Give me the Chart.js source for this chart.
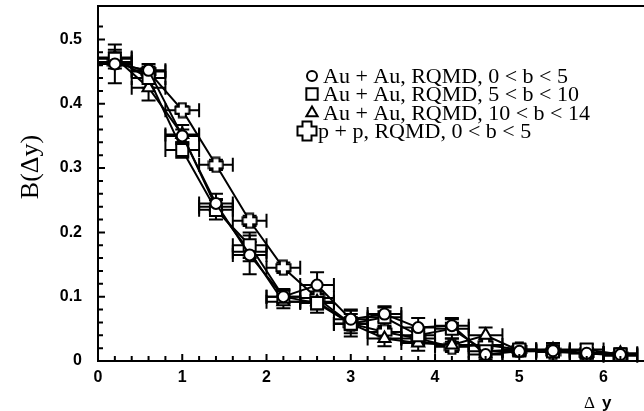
<!DOCTYPE html>
<html>
<head>
<meta charset="utf-8">
<script src="https://cdn.jsdelivr.net/npm/chart.js@4.4.0/dist/chart.umd.min.js"></script>
<style>
  html, body { margin: 0; padding: 0; background: #fff; overflow: hidden; }
  #wrap { width: 644px; height: 411px; }
</style>
</head>
<body>
<div id="wrap"><canvas id="myChart" width="644" height="411"></canvas></div>
<script>
// rapidity gap bins (bin centres, each bin is 0.4 wide)
const dy = [0.2, 0.6, 1.0, 1.4, 1.8, 2.2, 2.6, 3.0, 3.4, 3.8, 4.2, 4.6, 5.0, 5.4, 5.8, 6.2];
const dyHalfWidth = 0.2;

// balance function B(dy) for each sample
const auCentral    = [0.462, 0.452, 0.350, 0.245, 0.165, 0.100, 0.118, 0.065, 0.073, 0.052, 0.055, 0.010, 0.015, 0.016, 0.012, 0.010];
const auMid        = [0.470, 0.440, 0.328, 0.235, 0.180, 0.100, 0.090, 0.058, 0.068, 0.040, 0.050, 0.015, 0.018, 0.015, 0.018, 0.010];
const auPeripheral = [0.472, 0.425, 0.352, 0.240, 0.170, 0.092, 0.092, 0.058, 0.035, 0.028, 0.025, 0.040, 0.016, 0.018, 0.012, 0.012];
const ppMinBias    = [0.465, 0.450, 0.390, 0.305, 0.218, 0.145, 0.098, 0.058, 0.045, 0.035, 0.022, 0.025, 0.018, 0.014, 0.012, 0.008];

// statistical errors
const errCentral    = [0.030, 0.010, 0.010, 0.015, 0.030, 0.010, 0.020, 0.015, 0.012, 0.015, 0.012, 0.008, 0.008, 0.008, 0.008, 0.008];
const errMid        = [0.010, 0.015, 0.012, 0.015, 0.020, 0.012, 0.015, 0.020, 0.015, 0.010, 0.015, 0.010, 0.008, 0.008, 0.008, 0.008];
const errPeripheral = [0.012, 0.020, 0.015, 0.012, 0.015, 0.010, 0.012, 0.015, 0.012, 0.012, 0.010, 0.012, 0.008, 0.010, 0.008, 0.008];
const errPP         = [0.010, 0.008, 0.006, 0.008, 0.008, 0.008, 0.010, 0.010, 0.010, 0.010, 0.008, 0.008, 0.008, 0.008, 0.008, 0.008];

const legendLabels = [
  'Au + Au, RQMD, 0 < b < 5',
  'Au + Au, RQMD, 5 < b < 10',
  'Au + Au, RQMD, 10 < b < 14',
  'p + p, RQMD, 0 < b < 5'
];
const xTickLabels = ['0', '1', '2', '3', '4', '5', '6'];
const yTickLabels = ['0', '0.1', '0.2', '0.3', '0.4', '0.5'];

// hollow "fat plus" marker for the p+p points
function plusMarker(size, arm) {
  const c = document.createElement('canvas');
  c.width = size;
  c.height = size;
  const g = c.getContext('2d');
  const m = size / 2, e = size / 2 - 1.5;
  g.beginPath();
  g.moveTo(m - arm, m - e);
  g.lineTo(m + arm, m - e);
  g.lineTo(m + arm, m - arm);
  g.lineTo(m + e, m - arm);
  g.lineTo(m + e, m + arm);
  g.lineTo(m + arm, m + arm);
  g.lineTo(m + arm, m + e);
  g.lineTo(m - arm, m + e);
  g.lineTo(m - arm, m + arm);
  g.lineTo(m - e, m + arm);
  g.lineTo(m - e, m - arm);
  g.lineTo(m - arm, m - arm);
  g.closePath();
  g.fillStyle = '#fff';
  g.fill();
  g.lineWidth = 2;
  g.strokeStyle = '#000';
  g.stroke();
  return c;
}
const plusSmall = plusMarker(17, 3.5);
const plusBig = plusMarker(22, 4.5);

function series(values, errors, style, radius) {
  return {
    data: dy.map((x, i) => ({ x: x, y: values[i] })),
    errors: errors,
    borderColor: '#000',
    borderWidth: 2,
    backgroundColor: '#fff',
    pointStyle: style,
    pointRadius: radius,
    pointBorderWidth: 2,
    pointBackgroundColor: '#fff',
    pointBorderColor: '#000',
    tension: 0,
    fill: false
  };
}

const errorBars = {
  id: 'errorBars',
  beforeDatasetsDraw(chart) {
    const { ctx, scales: { x, y } } = chart;
    const cap = 7;
    ctx.save();
    ctx.strokeStyle = '#000';
    ctx.lineWidth = 2;
    chart.data.datasets.forEach(ds => {
      ds.data.forEach((p, i) => {
        const px = x.getPixelForValue(p.x);
        const py = y.getPixelForValue(p.y);
        const xl = x.getPixelForValue(p.x - dyHalfWidth);
        const xr = x.getPixelForValue(p.x + dyHalfWidth);
        const yt = y.getPixelForValue(p.y + ds.errors[i]);
        const yb = y.getPixelForValue(p.y - ds.errors[i]);
        ctx.beginPath();
        ctx.moveTo(xl, py); ctx.lineTo(xr, py);
        ctx.moveTo(xl, py - cap); ctx.lineTo(xl, py + cap);
        ctx.moveTo(xr, py - cap); ctx.lineTo(xr, py + cap);
        ctx.moveTo(px, yt); ctx.lineTo(px, yb);
        ctx.moveTo(px - cap, yt); ctx.lineTo(px + cap, yt);
        ctx.moveTo(px - cap, yb); ctx.lineTo(px + cap, yb);
        ctx.stroke();
      });
    });
    ctx.restore();
  }
};

// inward tick marks, top frame line, titles and the legend block
const frame = {
  id: 'frame',
  afterDraw(chart) {
    const { ctx, chartArea: area, scales: { x, y } } = chart;
    ctx.save();
    ctx.strokeStyle = '#000';
    ctx.lineWidth = 2;
    ctx.beginPath();
    x.ticks.forEach(t => {
      const k = Math.round(t.value * 5);
      if (Math.abs(t.value * 5 - k) > 1e-6) return;
      const len = k % 5 === 0 ? 7 : 5;
      const px = x.getPixelForValue(t.value);
      ctx.moveTo(px, area.bottom);
      ctx.lineTo(px, area.bottom - len);
    });
    y.ticks.forEach(t => {
      const k = Math.round(t.value * 50);
      if (Math.abs(t.value * 50 - k) > 1e-6) return;
      const len = k % 5 === 0 ? 7 : 5;
      const py = y.getPixelForValue(t.value);
      ctx.moveTo(area.left, py);
      ctx.lineTo(area.left + len, py);
    });
    ctx.moveTo(area.left - 1, area.top);
    ctx.lineTo(area.right, area.top);
    ctx.stroke();

    // axis titles
    ctx.fillStyle = '#000';
    ctx.textBaseline = 'middle';
    ctx.textAlign = 'center';
    ctx.save();
    ctx.translate(31, 167);
    ctx.rotate(-Math.PI / 2);
    ctx.font = '26px "Liberation Serif", "Times New Roman", serif';
    ctx.fillText('B(\u0394y)', 0, 0);
    ctx.restore();
    ctx.textAlign = 'left';
    ctx.textBaseline = 'alphabetic';
    ctx.font = '17px "Liberation Serif", serif';
    ctx.fillText('\u0394', 584, 408);
    ctx.font = 'bold 17px "Liberation Sans", Arial, sans-serif';
    ctx.fillText('y', 602, 408);

    // legend
    const rows = [76, 94, 113, 131];
    ctx.font = '22px "Liberation Serif", "Times New Roman", serif';
    ctx.textBaseline = 'middle';
    chart.data.datasets.forEach((ds, i) => {
      ctx.fillStyle = '#fff';
      ctx.strokeStyle = '#000';
      ctx.lineWidth = 2;
      if (i === 3) {
        ctx.drawImage(plusBig, 307 - 11, rows[i] - 11);
      } else {
        Chart.helpers.drawPoint(ctx, {
          pointStyle: ds.pointStyle,
          radius: i === 0 ? 5 : i === 1 ? 8 : 6.5,
          borderWidth: 2,
          rotation: 0
        }, 312, rows[i]);
      }
      ctx.fillStyle = '#000';
      ctx.fillText(legendLabels[i], i === 3 ? 318 : 323, rows[i] + 1);
    });
    ctx.restore();
  }
};

const tickFont = { family: '"Liberation Sans", Arial, sans-serif', size: 16, weight: 'bold' };

const ctx = document.getElementById('myChart').getContext('2d');
const myChart = new Chart(ctx, {
  type: 'line',
  data: {
    datasets: [
      series(auCentral, errCentral, 'circle', 5.5),
      series(auMid, errMid, 'rect', 8.5),
      series(auPeripheral, errPeripheral, 'triangle', 7),
      series(ppMinBias, errPP, plusSmall, 8)
    ]
  },
  options: {
    responsive: false,
    animation: false,
    layout: { autoPadding: false, padding: { top: 6, right: 0, left: 0, bottom: 0 } },
    plugins: {
      legend: { display: false },
      tooltip: { enabled: false }
    },
    scales: {
      x: {
        type: 'linear',
        min: 0,
        max: 6.48,
        afterFit(scale) {
          scale.height = 50;
          scale.paddingLeft = 0;
          scale.paddingRight = 0;
        },
        grid: { display: false, drawTicks: false },
        border: { display: true, color: '#000', width: 2 },
        ticks: {
          stepSize: 0.2,
          autoSkip: false,
          maxRotation: 0,
          padding: 7,
          color: '#000',
          font: tickFont,
          callback: v => {
            const k = Math.round(v);
            return Math.abs(v - k) < 1e-6 ? xTickLabels[k] : '';
          }
        }
      },
      y: {
        min: 0,
        max: 0.552,
        afterFit(scale) {
          scale.width = 98;
          scale.paddingTop = 0;
          scale.paddingBottom = 0;
        },
        grid: { display: false, drawTicks: false },
        border: { display: true, color: '#000', width: 2 },
        ticks: {
          stepSize: 0.02,
          autoSkip: false,
          padding: 16,
          color: '#000',
          font: tickFont,
          callback: v => {
            const k = Math.round(v * 10);
            return Math.abs(v * 10 - k) < 1e-6 ? yTickLabels[k] : '';
          }
        }
      }
    }
  },
  plugins: [errorBars, frame]
});
</script>
</body>
</html>
